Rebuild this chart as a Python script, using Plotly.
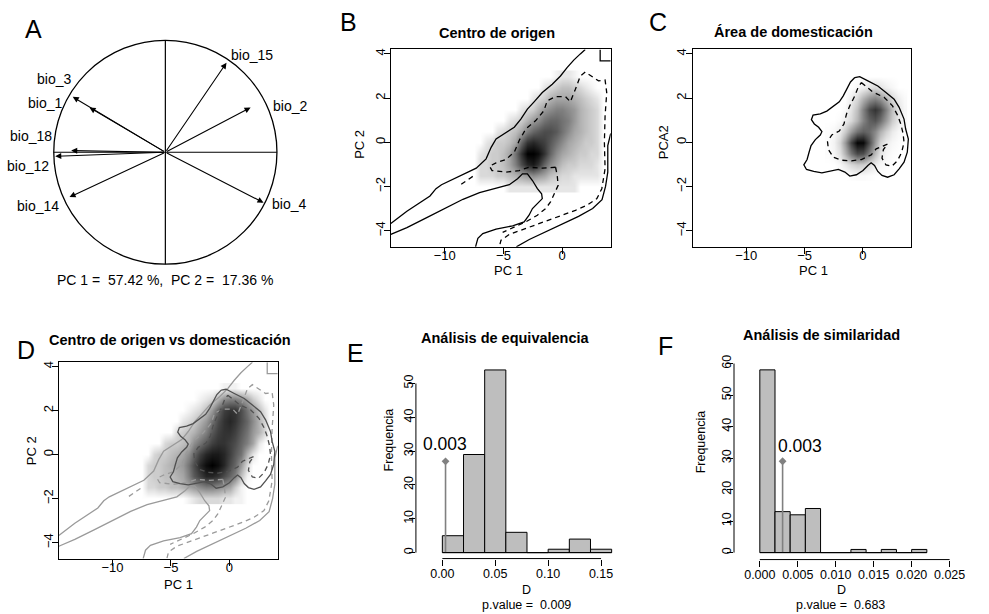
import plotly.graph_objects as go

W, H = 989, 614
FONT = "Liberation Sans, Arial, Helvetica, sans-serif"

# ---------------- Panel A : correlation circle ----------------
bio_names = ["bio_1", "bio_2", "bio_3", "bio_4", "bio_12", "bio_14", "bio_15", "bio_18"]
pc1_load = [-0.68, 0.764, -0.83, 0.88, -0.987, -0.859, 0.548, -0.844]
pc2_load = [0.40, 0.40, 0.495, -0.45, -0.036, -0.40, 0.80, 0.015]
pc_var = [57.42, 17.36]

# ---------------- density grids (grey level 0 = white, 10 = black) ----------------
grid_x = [-7.5, -7.0, -6.5, -6.0, -5.5, -5.0, -4.5, -4.0, -3.5, -3.0, -2.5, -2.0,
          -1.5, -1.0, -0.5, 0.0, 0.5, 1.0, 1.5, 2.0, 2.5, 3.0, 3.5]
grid_y = [-2.0, -1.5, -1.0, -0.5, 0.0, 0.5, 1.0, 1.5, 2.0, 2.5, 3.0]

dens_origin = [
    [0, 0, 0, 0, 0, 0, 1, 1, 1, 1, 1, 1, 1, 1, 1, 1, 1, 1, 0, 0, 0, 0, 0],
    [0, 1.5, 1.5, 1.5, 2, 2, 2.5, 3, 3.5, 4, 4.5, 4, 3.5, 2.5, 2, 1.5, 1.5, 1, 1, 1, 1, 1, 0],
    [0, 1.5, 1.5, 2, 2, 2.5, 3.5, 5, 7, 8.5, 9, 8, 6, 4.5, 3.5, 2.5, 2, 2, 1.5, 1.5, 1.5, 1, 0],
    [0, 1, 1.5, 2, 2, 2.5, 3.5, 5.5, 8, 10, 10, 9.5, 8, 6, 4.5, 3.5, 3, 2.5, 2, 2, 1.5, 1.5, 0],
    [0, 0, 1, 1.5, 2, 2, 2.5, 3.5, 6, 8, 8.5, 8, 7.5, 6.5, 5.5, 4.5, 3.5, 3, 2.5, 2, 2, 1.5, 0],
    [0, 0, 0, 0, 1, 1.5, 2, 2.5, 3.5, 5, 6, 6.5, 7, 7, 6.5, 5.5, 4.5, 3.5, 3, 2.5, 2, 1.5, 0],
    [0, 0, 0, 0, 0, 0, 1, 1.5, 2, 3, 4, 4.5, 5.5, 6, 6, 5.5, 5, 4, 3, 2.5, 2, 1.5, 0],
    [0, 0, 0, 0, 0, 0, 0, 0, 1, 1.5, 2, 3, 4, 4.5, 5, 5, 4.5, 4, 3, 2.5, 2, 1.5, 0],
    [0, 0, 0, 0, 0, 0, 0, 0, 0, 0, 1, 1.5, 2, 3, 3.5, 3.5, 3.5, 3, 2.5, 2, 1.5, 1, 0],
    [0, 0, 0, 0, 0, 0, 0, 0, 0, 0, 0, 0, 1, 1.5, 2, 2.5, 2.5, 2, 1.5, 1, .5, 0, 0],
    [0, 0, 0, 0, 0, 0, 0, 0, 0, 0, 0, 0, 0, 0, .5, 1, 1, .5, 0, 0, 0, 0, 0],
]

dens_both = [
    [0, 0, 0, 0, 0, 0, 0, 0, .5, 1, 1.5, 1.5, 1.5, 1.5, 1, 1, .5, .5, 0, 0, 0, 0, 0],
    [0, 1.5, 1.5, 2, 2, 2.5, 2.5, 3, 3.5, 4, 4.5, 5, 5, 4.5, 4, 3.5, 2, .5, 0, 0, 0, 0, 0],
    [0, 1.5, 2, 2, 2.5, 2.5, 3, 3.5, 5, 6.5, 7.5, 8.5, 8.5, 8, 7, 6, 5, 2.5, .5, 0, 0, 0, 0],
    [0, 1.5, 2, 2, 2.5, 3, 3.5, 4, 5.5, 7, 8.5, 9.5, 10, 9.5, 8.5, 7, 6, 4, 1.5, 0, 0, 0, 0],
    [0, 0, 1.5, 2, 2, 2.5, 3, 3.5, 4.5, 6, 7.5, 8.5, 9, 9, 8.5, 7.5, 6.5, 5.5, 3, 1, 0, 0, 0],
    [0, 0, 0, 0, 1.5, 2, 2, 2.5, 3, 4.5, 5.5, 6.5, 7.5, 8, 8, 7.5, 7, 6, 5, 3.5, 1, 0, 0],
    [0, 0, 0, 0, 0, 0, 1.5, 2, 2.5, 3, 4, 5, 6.5, 7.5, 8, 8, 7.5, 6.5, 5.5, 4, 3, 1.5, 0],
    [0, 0, 0, 0, 0, 0, 0, 1, 1.5, 2, 3, 4, 5.5, 7, 8, 8.5, 8, 7, 6, 4.5, 3, 1.5, 0],
    [0, 0, 0, 0, 0, 0, 0, 0, .5, 1, 1.5, 2.5, 4, 6, 7.5, 8, 8, 7, 5.5, 4, 2.5, 1, 0],
    [0, 0, 0, 0, 0, 0, 0, 0, 0, 0, .5, 1, 1.5, 3, 4.5, 5, 5, 4.5, 3.5, 2, 1, 0, 0],
    [0, 0, 0, 0, 0, 0, 0, 0, 0, 0, 0, 0, 0, 0, .5, .5, .5, 0, 0, 0, 0, 0, 0],
]

grid_xc = [-3.0, -2.5, -2.0, -1.5, -1.0, -0.5, 0.0, 0.5, 1.0, 1.5, 2.0, 2.5, 3.0, 3.5]
grid_yc = [-1.5, -1.0, -0.5, 0.0, 0.5, 1.0, 1.5, 2.0, 2.5, 3.0]
dens_domest = [
    [0, 0, 0, 0, .1, .2, .2, .1, 0, 0, 0, 0, 0, 0],
    [0, 0, .3, .8, 1.5, 2, 1.9, 1.3, .7, .3, .1, 0, 0, 0],
    [.1, .4, 1.2, 3, 5.4, 7.1, 6.9, 4.9, 2.6, 1.1, .4, .1, 0, 0],
    [.1, .5, 1.7, 4, 7.4, 9.8, 9.7, 7, 3.9, 1.7, .7, .3, .1, 0],
    [.1, .3, .8, 2, 3.9, 5.5, 6.2, 5.8, 4.6, 3.1, 1.8, .8, .3, .1],
    [0, 0, .2, .7, 1.5, 2.9, 4.8, 6.2, 6.7, 5.7, 3.9, 2, .9, .2],
    [0, 0, 0, .2, 1.1, 2.5, 4.9, 7.1, 8, 7.1, 4.9, 2.5, 1.1, .3],
    [0, 0, 0, 0, .7, 1.5, 3, 4.2, 4.8, 4.2, 3, 1.5, .7, .2],
    [0, 0, 0, 0, 0, .3, .6, 1.1, 1.5, 1.1, .6, .3, 0, 0],
    [0, 0, 0, 0, 0, 0, 0, 0, 0, 0, 0, 0, 0, 0],
]

# ---------------- contour lines (PC1, PC2) ----------------
origin_solid_upper = [(-14.6, -3.68), (-13.23, -3.12), (-11.26, -2.43), (-10.75, -2.10), (-10.28, -1.92),
                      (-8.87, -1.58), (-7.32, -1.17), (-6.48, -0.75), (-6.05, -0.23), (-5.63, 0.15),
                      (-4.79, 0.42), (-4.08, 0.68), (-3.52, 1.05), (-2.96, 1.50), (-2.39, 1.83),
                      (-1.69, 2.25), (-0.84, 2.63), (-0.14, 3.00), (0.42, 3.38), (0.99, 3.72),
                      (1.55, 4.0), (1.97, 4.2)]
origin_solid_lower = [(-14.6, -4.17), (-13.23, -3.86), (-11.54, -3.41), (-9.85, -2.96), (-8.45, -2.58),
                      (-7.04, -2.28), (-5.63, -2.07), (-4.5, -1.92), (-3.80, -1.65), (-3.38, -1.43),
                      (-2.96, -1.43), (-2.53, -1.73), (-2.11, -2.10), (-1.75, -2.33), (-1.69, -2.55),
                      (-2.11, -2.78), (-2.53, -3.0), (-2.82, -3.30), (-3.24, -3.60), (-4.22, -3.78),
                      (-5.63, -3.93), (-6.76, -4.13), (-7.18, -4.35), (-7.38, -4.73)]
origin_solid_right = [(4.14, 0.4), (3.89, -0.15), (3.89, -1.35), (3.7, -2.0), (3.4, -2.6), (2.6, -3.0),
                      (1.4, -3.35), (0.0, -3.7), (-1.4, -4.05), (-2.8, -4.4), (-3.9, -4.73)]
origin_solid_corner = [(3.24, 4.2), (3.24, 3.68), (4.14, 3.68)]
origin_dash_main = [(-0.56, -1.13), (-1.69, -1.17), (-2.82, -1.13), (-3.66, -1.28), (-4.79, -1.35),
                    (-5.97, -1.28), (-6.19, -1.08), (-5.63, -0.93), (-4.79, -0.78), (-4.08, -0.45),
                    (-3.66, 0.08), (-3.10, 0.60), (-2.25, 0.98), (-1.55, 1.43), (-1.27, 1.88),
                    (-0.56, 2.07), (0.28, 2.07), (0.70, 1.83), (1.13, 2.40), (1.55, 3.00), (1.97, 3.18),
                    (2.53, 3.00), (3.10, 2.78), (3.66, 2.82), (3.80, 2.25), (3.66, 1.20), (3.60, 0.0),
                    (3.66, -1.20), (3.38, -2.10), (2.96, -2.55), (2.11, -2.85), (1.13, -3.08),
                    (0.0, -3.30), (-1.13, -3.53), (-2.25, -3.75), (-3.38, -3.98), (-4.5, -4.17),
                    (-5.21, -4.43), (-5.35, -4.73)]
origin_dash_inner = [(-0.56, -1.13), (-0.42, -1.50), (-0.34, -1.95), (-0.70, -2.33), (-0.99, -2.70),
                     (-1.41, -3.00), (-2.11, -3.30), (-3.10, -3.60), (-4.08, -3.83), (-5.07, -4.08)]
origin_dash_small = [(-8.6, -1.9), (-8.2, -1.75), (-7.5, -1.5)]

domest_solid = [(-0.70, 2.93), (-0.28, 2.97), (0.42, 2.78), (1.27, 2.55), (1.97, 2.25), (2.67, 1.95),
                (3.10, 1.58), (3.52, 1.05), (3.66, 0.60), (3.89, 0.15), (3.80, -0.45), (3.52, -0.90),
                (3.10, -1.20), (2.67, -1.47), (2.11, -1.58), (1.63, -1.50), (1.27, -1.32), (0.99, -1.05),
                (0.70, -0.93), (0.42, -1.05), (0.0, -1.28), (-0.56, -1.47), (-1.13, -1.53), (-1.55, -1.35),
                (-2.11, -1.23), (-2.82, -1.32), (-3.52, -1.38), (-4.22, -1.32), (-4.84, -1.23),
                (-5.07, -1.02), (-4.79, -0.78), (-4.62, -0.45), (-4.45, -0.15), (-4.08, 0.12),
                (-3.66, 0.33), (-3.52, 0.48), (-3.80, 0.68), (-4.17, 0.83), (-4.42, 1.02), (-4.28, 1.23),
                (-3.66, 1.29), (-3.10, 1.41), (-2.53, 1.62), (-2.03, 1.83), (-1.69, 2.10), (-1.35, 2.43),
                (-1.07, 2.73), (-0.70, 2.93)]
domest_dash = [(-0.14, 2.70), (0.84, 2.28), (1.83, 2.03), (2.53, 1.65), (2.96, 1.23), (3.24, 0.83),
               (3.43, 0.42), (3.52, 0.0), (3.32, -0.45), (2.96, -0.83), (2.48, -1.08), (1.97, -1.02),
               (1.63, -0.72), (1.75, -0.33), (2.11, -0.08), (1.13, -0.30), (0.70, -0.57), (-0.14, -0.78),
               (-0.99, -0.84), (-1.83, -0.81), (-2.53, -0.68), (-2.96, -0.33), (-3.04, 0.03),
               (-2.67, 0.33), (-2.03, 0.51), (-1.63, 0.83), (-1.41, 1.28), (-1.13, 1.65), (-0.70, 2.10),
               (-0.42, 2.48), (-0.14, 2.70)]

# ---------------- histograms ----------------
E_breaks = [0.00, 0.02, 0.04, 0.06, 0.08, 0.10, 0.12, 0.14, 0.16]
E_counts = [5, 29, 54, 6, 0, 1, 4, 1]
E_obs = 0.003
E_pvalue = "0.009"

F_breaks = [0.000, 0.002, 0.004, 0.006, 0.008, 0.010, 0.012, 0.014, 0.016, 0.018, 0.020, 0.022]
F_counts = [58, 13, 12, 14, 0, 0, 1, 0, 1, 0, 1]
F_obs = 0.003
F_pvalue = "0.683"


# ================= figure =================
def xdom(a, b):
    return [a / W, b / W]


def ydom(top, bottom):
    return [1 - bottom / H, 1 - top / H]


fig = go.Figure()
annotations = []
shapes = []


def ptext(xp, yp, text, size, bold=False, angle=0):
    if bold:
        text = "<b>" + text + "</b>"
    annotations.append(dict(xref="paper", yref="paper", x=xp / W, y=1 - yp / H, text=text,
                            showarrow=False, xanchor="center", yanchor="middle", textangle=angle,
                            font=dict(size=size, color="black", family=FONT)))


# ---- Panel A
fig.add_trace(go.Scatter(x=[0], y=[0], mode="markers", marker=dict(size=1, color="rgba(0,0,0,0)"),
                         xaxis="x", yaxis="y", hoverinfo="skip", showlegend=False))
shapes.append(dict(type="circle", xref="x", yref="y", x0=-1, y0=-1, x1=1, y1=1,
                   line=dict(color="black", width=1.3)))
shapes.append(dict(type="line", xref="x", yref="y", x0=-1, y0=0, x1=1, y1=0, line=dict(color="black", width=1.2)))
shapes.append(dict(type="line", xref="x", yref="y", x0=0, y0=-1, x1=0, y1=1, line=dict(color="black", width=1.2)))
label_xy = {"bio_1": (-1.082, 0.444), "bio_2": (1.118, 0.409), "bio_3": (-0.997, 0.652),
            "bio_4": (1.107, -0.462), "bio_12": (-1.227, -0.124), "bio_14": (-1.138, -0.48),
            "bio_15": (0.773, 0.871), "bio_18": (-1.2, 0.142)}
for name, px, py in zip(bio_names, pc1_load, pc2_load):
    annotations.append(dict(xref="x", yref="y", axref="x", ayref="y", x=px, y=py, ax=0, ay=0, text="",
                            showarrow=True, arrowhead=2, arrowsize=1.1, arrowwidth=1.1, arrowcolor="black"))
    lx, ly = label_xy[name]
    annotations.append(dict(xref="x", yref="y", x=lx, y=ly, text=name, showarrow=False,
                            xanchor="center", yanchor="middle",
                            font=dict(size=14, color="black", family=FONT)))
ptext(166.7, 278, f"PC 1 =\u00a0 {pc_var[0]:.2f} %,\u00a0 PC 2 =\u00a0 {pc_var[1]:.2f} %", 14)


# ---- density panels
def heat(grid_xx, grid_yy, z, n):
    fig.add_trace(go.Heatmap(x=grid_xx, y=grid_yy, z=z, zmin=0, zmax=10, zsmooth="best",
                             colorscale=[[0, "#ffffff"], [1, "#000000"]], showscale=False,
                             xaxis=f"x{n}", yaxis=f"y{n}", hoverinfo="skip"))


def contour(pts, n, color, dash):
    fig.add_trace(go.Scatter(x=[p[0] for p in pts], y=[p[1] for p in pts], mode="lines",
                             line=dict(color=color, width=1.3, dash=dash),
                             xaxis=f"x{n}", yaxis=f"y{n}", hoverinfo="skip", showlegend=False))


DASH = "5px,4px"
origin_solid = [origin_solid_upper, origin_solid_lower, origin_solid_right, origin_solid_corner]
origin_dash = [origin_dash_main, origin_dash_inner, origin_dash_small]

# B
heat(grid_x, grid_y, dens_origin, 2)
for c in origin_solid:
    contour(c, 2, "black", "solid")
for c in origin_dash:
    contour(c, 2, "black", DASH)
# C
heat(grid_xc, grid_yc, dens_domest, 3)
contour(domest_solid, 3, "black", "solid")
contour(domest_dash, 3, "black", DASH)
# D
heat(grid_x, grid_y, dens_both, 4)
for c in origin_solid:
    contour(c, 4, "#9a9a9a", "solid")
for c in origin_dash:
    contour(c, 4, "#9a9a9a", DASH)
contour(domest_solid, 4, "#505050", "solid")
contour(domest_dash, 4, "#505050", DASH)


# ---- histograms
def hist(breaks, counts, obs, n):
    centers = [(breaks[i] + breaks[i + 1]) / 2 for i in range(len(counts))]
    width = breaks[1] - breaks[0]
    fig.add_trace(go.Bar(x=centers, y=counts, width=width,
                         marker=dict(color="#bebebe", line=dict(color="black", width=1)),
                         xaxis=f"x{n}", yaxis=f"y{n}", hoverinfo="skip", showlegend=False))
    top = max(counts) / 2
    fig.add_trace(go.Scatter(x=[obs, obs], y=[0, top], mode="lines", line=dict(color="#808080", width=1.6),
                             xaxis=f"x{n}", yaxis=f"y{n}", hoverinfo="skip", showlegend=False))
    fig.add_trace(go.Scatter(x=[obs], y=[top], mode="markers",
                             marker=dict(symbol="diamond", size=6, color="#808080"),
                             xaxis=f"x{n}", yaxis=f"y{n}", hoverinfo="skip", showlegend=False))
    shapes.append(dict(type="line", xref=f"x{n}", yref=f"y{n}", x0=breaks[0], x1=breaks[-1], y0=0, y1=0,
                       line=dict(color="black", width=1), layer="above"))
    return top


topE = hist(E_breaks, E_counts, E_obs, 5)
topF = hist(F_breaks, F_counts, F_obs, 6)
annotations.append(dict(xref="x5", yref="y5", x=E_obs, y=topE, yshift=17, xshift=-1, text=f"{E_obs:.3f}",
                        showarrow=False, xanchor="center", yanchor="middle",
                        font=dict(size=17.5, color="black", family=FONT)))
annotations.append(dict(xref="x6", yref="y6", x=F_obs, y=topF, yshift=15, xshift=17, text=f"{F_obs:.3f}",
                        showarrow=False, xanchor="center", yanchor="middle",
                        font=dict(size=17.5, color="black", family=FONT)))
# R-style axis lines spanning the ticks only
for n, xt, yt in [(5, (0, 0.15), (0, 50)), (6, (0, 0.025), (0, 60))]:
    shapes.append(dict(type="line", xref=f"x{n}", yref=f"y{n} domain", x0=xt[0], x1=xt[1], y0=0, y1=0,
                       line=dict(color="black", width=1)))
    shapes.append(dict(type="line", xref=f"x{n} domain", yref=f"y{n}", x0=0, x1=0, y0=yt[0], y1=yt[1],
                       line=dict(color="black", width=1)))

# ---------------- layout ----------------
tickfont = dict(size=13, color="black", family=FONT)
common = dict(showgrid=False, zeroline=False, ticks="outside", ticklen=6, tickwidth=1, tickcolor="black",
              tickfont=tickfont)
box = dict(showline=True, mirror=True, linecolor="black", linewidth=1)

layout = dict(width=W, height=H, autosize=False, margin=dict(l=0, r=0, t=0, b=0, pad=0),
              paper_bgcolor="white", plot_bgcolor="white", showlegend=False,
              font=dict(family=FONT, color="black"))

layout["xaxis"] = dict(domain=xdom(20.45, 312.95), range=[-1.3, 1.3], visible=False, anchor="y")
layout["yaxis"] = dict(domain=ydom(9.4, 290.6), range=[-1.25, 1.25], visible=False, anchor="x")

panels = {2: (394, 615.7, 46.7, 245), 3: (698.3, 918.7, 46.7, 245), 4: (59.3, 280, 361, 558.3)}
for n, (x0, x1, t, b) in panels.items():
    layout[f"xaxis{n}"] = dict(domain=xdom(x0, x1), range=[-14.6, 4.14], tickvals=[-10, -5, 0],
                               ticklabelstandoff=-9, anchor=f"y{n}", **common, **box)
    layout[f"yaxis{n}"] = dict(domain=ydom(t, b), range=[-4.73, 4.2], tickvals=[-4, -2, 0, 2, 4],
                               tickangle=-90, ticklabelstandoff=-6, anchor=f"x{n}", **common, **box)

histfont = dict(size=12.5, color="black", family=FONT)
hc = dict(common, tickfont=histfont, showline=False)
layout["xaxis5"] = dict(domain=xdom(419.3, 627.3), range=[-0.025, 0.17], tickvals=[0, 0.05, 0.10, 0.15],
                        tickformat=".2f", ticklabelstandoff=-3, anchor="y5", **hc)
layout["yaxis5"] = dict(domain=ydom(361.4, 558.3), range=[-1.76, 56.16], tickvals=[0, 10, 20, 30, 40, 50],
                        tickangle=-90, ticklabelstandoff=-9, anchor="x5", **hc)
layout["xaxis6"] = dict(domain=xdom(740, 965), range=[-0.0034, 0.026],
                        tickvals=[0, 0.005, 0.010, 0.015, 0.020, 0.025], tickformat=".3f",
                        ticklabelstandoff=-3, anchor="y6", **hc)
layout["yaxis6"] = dict(domain=ydom(356, 559.3), range=[-2.21, 62.0],
                        tickvals=[0, 10, 20, 30, 40, 50, 60], tickangle=-90, ticklabelstandoff=-9,
                        anchor="x6", **hc)

# ---------------- texts ----------------
for letter, xp, yp in [("A", 34.2, 25.8), ("B", 351.3, 19.2), ("C", 663.3, 19.2),
                       ("D", 25.8, 349), ("E", 358.3, 351.7), ("F", 670.8, 344.7)]:
    ptext(xp, yp, letter, 25)

ptext(500.8, 30, "Centro de origen", 14.5, bold=True)
ptext(800, 29, "Área de domesticación", 14.5, bold=True)
ptext(171.7, 338.3, "Centro de origen vs domesticación", 14.5, bold=True)
ptext(509.8, 336.7, "Análisis de equivalencia", 14.5, bold=True)
ptext(827.8, 333.3, "Análisis de similaridad", 14.5, bold=True)

ptext(512.3, 269, "PC 1", 13)
ptext(363, 142.5, "PC 2", 13, angle=-90)
ptext(820, 269, "PC 1", 13)
ptext(668.3, 140, "PCA2", 13, angle=-90)
ptext(180, 584, "PC 1", 13)
ptext(31.7, 450, "PC 2", 13, angle=-90)

ptext(531, 590, "D", 12.5)
ptext(531, 605, f"p.value =\u00a0 {E_pvalue}", 12.5)
ptext(391.7, 439, "Frequencia", 12.5, angle=-90)
ptext(848.3, 590, "D", 12.5)
ptext(847.7, 605, f"p.value =\u00a0 {F_pvalue}", 12.5)
ptext(706.7, 440.5, "Frequencia", 12.5, angle=-90)

layout["annotations"] = annotations
layout["shapes"] = shapes
fig.update_layout(**layout)

fig.write_html("out.html", config={"displayModeBar": False, "responsive": False},
               post_script="document.body.style.margin='0';document.body.style.overflow='hidden';")
